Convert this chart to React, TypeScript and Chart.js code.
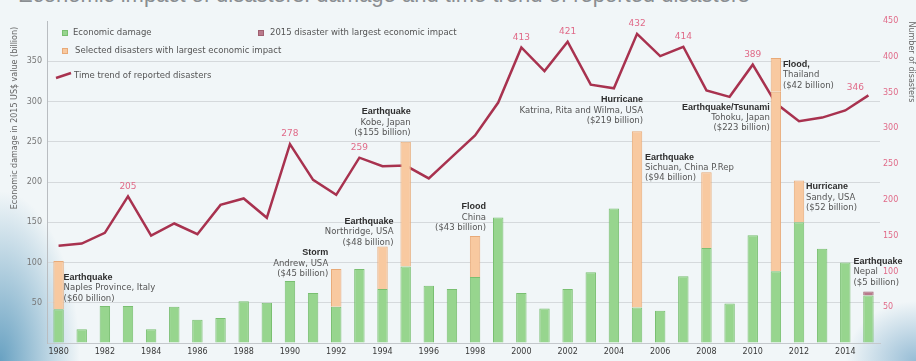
import { useEffect, useRef } from "react";
import { Chart, registerables } from "chart.js";

Chart.register(...registerables);

const FONT = "'DejaVu Sans', sans-serif";
const BOLD_FONT = "'Liberation Sans', Arial, sans-serif";

const years = [
  "1980", "1981", "1982", "1983", "1984", "1985", "1986", "1987", "1988", "1989",
  "1990", "1991", "1992", "1993", "1994", "1995", "1996", "1997", "1998", "1999",
  "2000", "2001", "2002", "2003", "2004", "2005", "2006", "2007", "2008", "2009",
  "2010", "2011", "2012", "2013", "2014", "2015",
];

// Economic damage (billion US$, 2015 value) excluding highlighted disasters
const economicDamage = [
  42, 17, 46, 46, 17, 45, 29, 31, 52, 50,
  77, 62, 45, 92, 67, 95, 71, 67, 82, 156,
  62, 43, 67, 88, 167, 44, 40, 83, 118, 49,
  134, 89, 150, 117, 100, 59,
];

// Selected disasters with largest economic impact
const selectedDisaster = [
  60, null, null, null, null, null, null, null, null, null,
  null, null, 47, null, 53, 155, null, null, 51, null,
  null, null, null, null, null, 219, null, null, 94, null,
  null, 223, 52, null, null, null,
];

// Second selected disaster in the same year (Thailand flood 2011)
const selectedDisaster2 = [
  null, null, null, null, null, null, null, null, null, null,
  null, null, null, null, null, null, null, null, null, null,
  null, null, null, null, null, null, null, null, null, null,
  null, 42, null, null, null, null,
];

// 2015 disaster with largest economic impact
const disaster2015 = [
  null, null, null, null, null, null, null, null, null, null,
  null, null, null, null, null, null, null, null, null, null,
  null, null, null, null, null, null, null, null, null, null,
  null, null, null, null, null, 5,
];

// Number of reported disasters
const reportedDisasters = [
  136, 139, 154, 205, 150, 167, 152, 193, 202, 175,
  278, 228, 207, 259, 247, 248, 230, 260, 290, 336,
  413, 380, 421, 361, 356, 432, 401, 414, 353, 344,
  389, 335, 310, 315, 325, 346,
];

const labeledYears = ["1983", "1990", "1993", "2000", "2002", "2005", "2007", "2010", "2015"];

const leftAxisTitle = "Economic damage in 2015 US$ value (billion)";
const rightAxisTitle = "Number of disasters";
const chartTitle = "Economic impact of disasters: damage and time trend of reported disasters";

const legendItems = [
  "Economic damage",
  "2015 disaster with largest economic impact",
  "Selected disasters with largest economic impact",
  "Time trend of reported disasters",
];

type Note = { year: string; title: string; lines: string[]; align: CanvasTextAlign; dx: number; value: number };

const annotations: Note[] = [
  { year: "1980", title: "Earthquake", lines: ["Naples Province, Italy", "($60 billion)"], align: "left", dx: 5, value: 81 },
  { year: "1992", title: "Storm", lines: ["Andrew, USA", "($45 billion)"], align: "right", dx: -8, value: 112 },
  { year: "1994", title: "Earthquake", lines: ["Northridge, USA", "($48 billion)"], align: "right", dx: 11, value: 151 },
  { year: "1995", title: "Earthquake", lines: ["Kobe, Japan", "($155 billion)"], align: "right", dx: 5, value: 287 },
  { year: "1998", title: "Flood", lines: ["China", "($43 billion)"], align: "right", dx: 11, value: 169 },
  { year: "2005", title: "Hurricane", lines: ["Katrina, Rita and Wilma, USA", "($219 billion)"], align: "right", dx: 6, value: 302 },
  { year: "2005", title: "Earthquake", lines: ["Sichuan, China P.Rep", "($94 billion)"], align: "left", dx: 8, value: 231 },
  { year: "2011", title: "Earthquake/Tsunami", lines: ["Tohoku, Japan", "($223 billion)"], align: "right", dx: -6, value: 293 },
  { year: "2011", title: "Flood,", lines: ["Thailand", "($42 billion)"], align: "left", dx: 7, value: 346 },
  { year: "2012", title: "Hurricane", lines: ["Sandy, USA", "($52 billion)"], align: "left", dx: 7, value: 194 },
  { year: "2015", title: "Earthquake", lines: ["Nepal", "($5 billion)"], align: "left", dx: -15, value: 101 },
];

const GREEN = "#97d58e";
const GREEN_B = "#79bf71";
const ORANGE = "#f8c9a0";
const ORANGE_B = "#e8aa78";
const MAUVE = "#b97a8c";
const LINE = "#a8324f";
const PINK = "#e06a88";

const overlayPlugin = {
  id: "overlay",
  afterDatasetsDraw(chart: any) {
    const { ctx, chartArea, scales } = chart;
    const xs = scales.x;
    const ys = scales.y;
    const y1 = scales.y1;
    ctx.save();

    // line value labels
    ctx.font = `9px ${FONT}`;
    ctx.fillStyle = PINK;
    ctx.textAlign = "center";
    ctx.textBaseline = "middle";
    labeledYears.forEach((yr) => {
      const i = years.indexOf(yr);
      const v = reportedDisasters[i];
      const last = i === years.length - 1;
      const px = xs.getPixelForValue(i) + (last ? -13 : 0);
      const py = y1.getPixelForValue(v) + (last ? -8 : -10);
      ctx.fillText(String(v), px, py);
    });

    // annotations
    annotations.forEach((a) => {
      const i = years.indexOf(a.year);
      const x = xs.getPixelForValue(i) + a.dx;
      const y = ys.getPixelForValue(a.value);
      ctx.textAlign = a.align;
      ctx.font = `bold 9px ${BOLD_FONT}`;
      ctx.fillStyle = "#2e2e2e";
      ctx.fillText(a.title, x, y);
      ctx.font = `8.5px ${FONT}`;
      ctx.fillStyle = "#555";
      a.lines.forEach((t, k) => ctx.fillText(t, x, y + 10.5 * (k + 1)));
    });

    // legend
    const lx = chartArea.left;
    const ty = chartArea.top;
    ctx.textAlign = "left";
    ctx.font = `8.5px ${FONT}`;
    const sq = (x: number, y: number, fill: string, stroke: string) => {
      ctx.fillStyle = fill;
      ctx.fillRect(x, y, 6, 6);
      ctx.strokeStyle = stroke;
      ctx.lineWidth = 1;
      ctx.strokeRect(x + 0.5, y + 0.5, 5, 5);
    };
    sq(lx + 15, ty + 9, GREEN, GREEN_B);
    sq(lx + 211, ty + 9, MAUVE, "#a06070");
    sq(lx + 15, ty + 27, ORANGE, ORANGE_B);
    ctx.fillStyle = "#555";
    ctx.fillText(legendItems[0], lx + 26, ty + 12);
    ctx.fillText(legendItems[1], lx + 223, ty + 12);
    ctx.fillText(legendItems[2], lx + 28, ty + 30);
    ctx.strokeStyle = LINE;
    ctx.lineWidth = 2.5;
    ctx.beginPath();
    ctx.moveTo(lx + 9, ty + 57);
    ctx.lineTo(lx + 24, ty + 52);
    ctx.stroke();
    ctx.fillStyle = "#555";
    ctx.fillText(legendItems[3], lx + 27, ty + 55);

    // axis titles
    ctx.font = `8px ${FONT}`;
    ctx.fillStyle = "#666";
    ctx.textAlign = "center";
    ctx.save();
    ctx.translate(15, 118);
    ctx.rotate(-Math.PI / 2);
    ctx.fillText(leftAxisTitle, 0, 0);
    ctx.restore();
    ctx.save();
    ctx.translate(chart.width - 5, 62);
    ctx.rotate(Math.PI / 2);
    ctx.fillText(rightAxisTitle, 0, 0);
    ctx.restore();

    ctx.restore();
  },
};

export default function App() {
  const ref = useRef<HTMLCanvasElement | null>(null);

  useEffect(() => {
    document.body.style.margin = "0";
    if (!ref.current) return;
    const tickFont = { family: FONT, size: 8 };
    const chart = new Chart(ref.current, {
      type: "bar",
      data: {
        labels: years,
        datasets: [
          {
            type: "bar",
            label: legendItems[0],
            data: economicDamage,
            backgroundColor: GREEN,
            borderColor: GREEN_B,
            borderWidth: 1,
            barPercentage: 0.45,
            categoryPercentage: 1,
            order: 0,
          },
          {
            type: "bar",
            label: legendItems[2],
            data: selectedDisaster as any,
            backgroundColor: ORANGE,
            borderColor: ORANGE_B,
            borderWidth: 1,
            barPercentage: 0.45,
            categoryPercentage: 1,
            order: 0,
          },
          {
            type: "bar",
            label: legendItems[2] + " (2)",
            data: selectedDisaster2 as any,
            backgroundColor: ORANGE,
            borderColor: ORANGE_B,
            borderWidth: 1,
            barPercentage: 0.45,
            categoryPercentage: 1,
            order: 0,
          },
          {
            type: "bar",
            label: legendItems[1],
            data: disaster2015 as any,
            backgroundColor: MAUVE,
            borderColor: "#a06070",
            borderWidth: 1,
            barPercentage: 0.45,
            categoryPercentage: 1,
            order: 0,
          },
          {
            type: "line",
            label: legendItems[3],
            data: reportedDisasters,
            yAxisID: "y1",
            borderColor: LINE,
            borderWidth: 2.5,
            pointRadius: 0,
            tension: 0,
            order: 10,
          } as any,
        ],
      },
      options: {
        responsive: false,
        animation: false,
        layout: { padding: { top: 21, left: 0, right: 0, bottom: 0 } },
        plugins: { legend: { display: false }, tooltip: { enabled: false } },
        scales: {
          x: {
            stacked: true,
            grid: { display: false, drawTicks: false },
            border: { display: true, color: "#c4c8cc" },
            ticks: {
              autoSkip: false,
              maxRotation: 0,
              padding: 4,
              color: "#3a3a3a",
              font: tickFont,
              callback: (_v: any, i: number) => (i % 2 === 0 ? years[i] : ""),
            },
            afterFit: (s: any) => {
              s.height = 18;
            },
          },
          y: {
            position: "left",
            stacked: true,
            min: 0,
            max: 400,
            ticks: {
              stepSize: 50,
              padding: 5,
              color: "#777",
              font: tickFont,
              callback: (v: any) => (v === 0 || v === 400 ? "" : String(v)),
            },
            grid: {
              drawTicks: false,
              color: (c: any) => (c.tick && (c.tick.value === 0 || c.tick.value === 400) ? "rgba(0,0,0,0)" : "#d5d9dc"),
            },
            border: { display: true, color: "#b9bdc1" },
            afterFit: (s: any) => {
              s.width = 47;
            },
          },
          y1: {
            position: "right",
            min: 0,
            max: 450,
            ticks: {
              stepSize: 50,
              padding: 3,
              color: PINK,
              font: tickFont,
              callback: (v: any) => (v === 0 ? "" : String(v)),
            },
            grid: { display: false, drawTicks: false },
            border: { display: false },
            afterFit: (s: any) => {
              s.width = 36;
            },
          },
        },
      } as any,
      plugins: [overlayPlugin],
    });
    return () => chart.destroy();
  }, []);

  return (
    <div
      style={{
        position: "fixed",
        left: 0,
        top: 0,
        width: 916,
        height: 361,
        overflow: "hidden",
        background:
          "radial-gradient(ellipse 80px 170px at 0% 100%, rgba(70,140,180,0.8), rgba(70,140,180,0) 100%), radial-gradient(ellipse 70px 60px at 100% 100%, rgba(90,150,190,0.6), rgba(90,150,190,0) 100%), #f1f6f8",
      }}
    >
      <div
        style={{
          position: "absolute",
          top: -16,
          left: 18,
          fontFamily: "'Liberation Sans', Arial, sans-serif",
          fontSize: 22,
          lineHeight: "22px",
          color: "#8a8e92",
          whiteSpace: "nowrap",
        }}
      >
        {chartTitle}
      </div>
      <canvas ref={ref} width={916} height={361} style={{ position: "absolute", left: 0, top: 0 }} />
    </div>
  );
}
